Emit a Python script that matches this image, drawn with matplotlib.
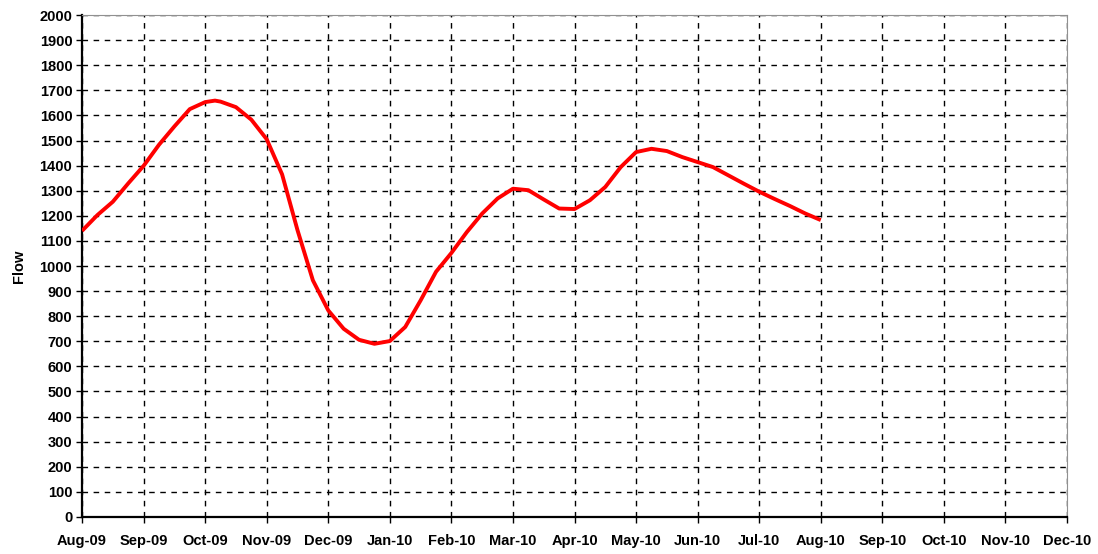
import matplotlib
matplotlib.use("Agg")
import matplotlib.pyplot as plt
import numpy as np

# month categories on the x axis
MONTHS = ["Aug-09", "Sep-09", "Oct-09", "Nov-09", "Dec-09", "Jan-10", "Feb-10",
          "Mar-10", "Apr-10", "May-10", "Jun-10", "Jul-10", "Aug-10", "Sep-10",
          "Oct-10", "Nov-10", "Dec-10"]

# flow readings, every quarter month from Aug-09 to Aug-10 (plus the Oct-09 peak)
FLOW_POS = [0, 0.25, 0.5, 0.75, 1, 1.25, 1.5, 1.75, 2, 2.16, 2.25, 2.5, 2.75,
            3, 3.25, 3.5, 3.75, 4, 4.25, 4.5, 4.75, 5, 5.25, 5.5, 5.75,
            6, 6.25, 6.5, 6.75, 7, 7.25, 7.5, 7.75, 8, 8.25, 8.5, 8.75,
            9, 9.25, 9.5, 9.75, 10, 10.25, 10.5, 10.75, 11, 11.25, 11.5, 11.75, 12]
FLOW = [1140, 1203, 1256, 1329, 1399, 1483, 1556, 1625, 1653, 1659, 1655, 1633, 1583,
        1505, 1365, 1143, 943, 823, 750, 706, 690, 701, 757, 863, 977,
        1052, 1135, 1209, 1269, 1308, 1302, 1265, 1229, 1227, 1262, 1315, 1394,
        1454, 1467, 1458, 1434, 1414, 1394, 1361, 1328, 1296, 1267, 1239, 1209, 1183]

Y_TICKS = list(range(0, 2001, 100))

plt.rcParams["font.family"] = ["Liberation Sans", "DejaVu Sans"]

fig = plt.figure(figsize=(10.98, 5.54), dpi=100, facecolor="white")
ax = fig.add_axes([0.0747, 0.0668, 0.8971, 0.9061])

ax.plot(FLOW_POS, FLOW, color="#ff0000", lw=2.8, solid_joinstyle="round",
        solid_capstyle="butt", zorder=3)

ax.set_xlim(0, len(MONTHS) - 1)
ax.set_ylim(0, 2000)
ax.set_xticks(range(len(MONTHS)))
ax.set_xticklabels(MONTHS, fontsize=10.5, fontweight="bold")
ax.set_yticks(Y_TICKS)
ax.set_yticklabels([str(v) for v in Y_TICKS], fontsize=10.5, fontweight="bold")
ax.tick_params(direction="out", length=4, width=1, colors="black", pad=3)
ax.tick_params(axis="x", pad=8)

ax.grid(True, color="black", linestyle=(0, (4, 4)), linewidth=1, zorder=1)
ax.set_axisbelow(True)

ax.spines["left"].set_color("black")
ax.spines["bottom"].set_color("black")
ax.spines["left"].set_linewidth(1.6)
ax.spines["bottom"].set_linewidth(1.6)
ax.spines["top"].set_color("#909090")
ax.spines["right"].set_color("#909090")

ax.set_ylabel("Flow", fontsize=10.5, fontweight="bold", labelpad=10)

fig.savefig("out.png", dpi=100, facecolor="white")
